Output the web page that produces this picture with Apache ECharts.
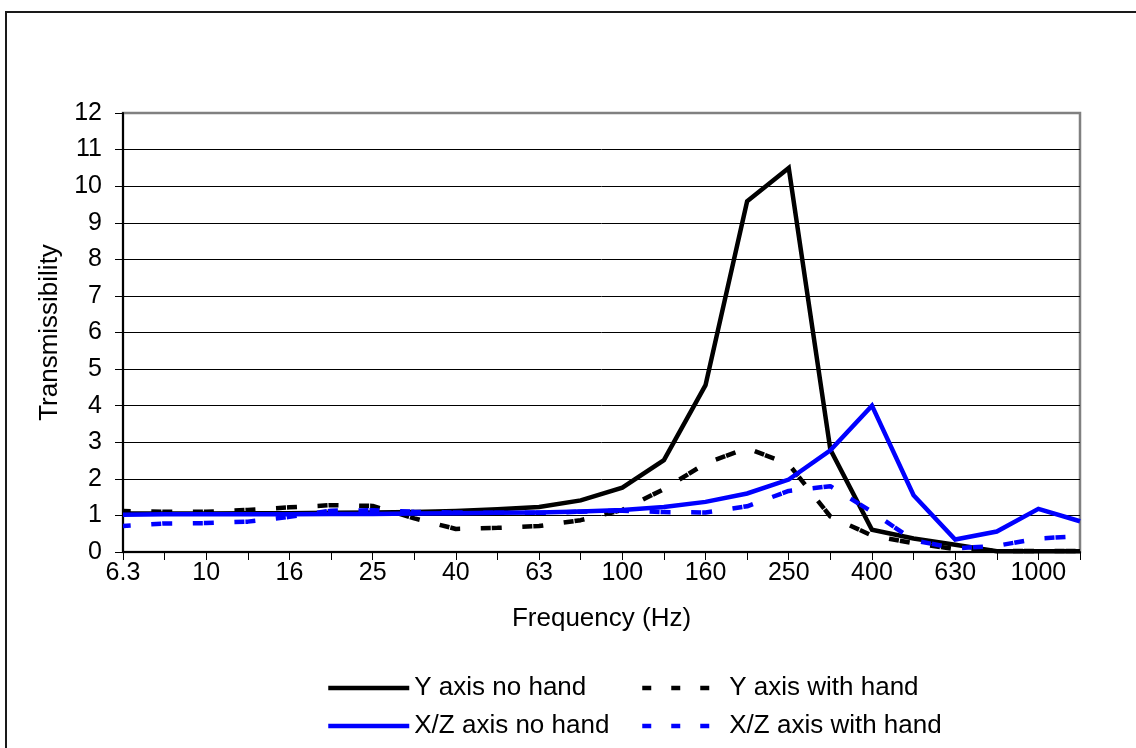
<!DOCTYPE html>
<html>
<head>
<meta charset="utf-8">
<script src="https://cdn.jsdelivr.net/npm/echarts@6/dist/echarts.min.js"></script>
<style>
  html, body { margin: 0; padding: 0; background: #fff; }
  #chart { width: 1136px; height: 748px; }
</style>
</head>
<body>
<div id="chart"></div>
<script>
// One-third octave band centre frequencies (Hz)
const frequencies = ['6.3', '8', '10', '12.5', '16', '20', '25', '31.5', '40', '50', '63', '80',
  '100', '125', '160', '200', '250', '315', '400', '500', '630', '800', '1000', '1250'];

// Transmissibility per band
const yAxisNoHand = [1.05, 1.05, 1.05, 1.06, 1.06, 1.07, 1.08, 1.09, 1.12, 1.17, 1.23, 1.41,
  1.76, 2.51, 4.56, 9.59, 10.5, 2.8, 0.61, 0.37, 0.2, 0.02, 0.02, 0.02];
const yAxisWithHand = [1.12, 1.1, 1.1, 1.15, 1.22, 1.28, 1.26, 0.92, 0.63, 0.66, 0.71, 0.87,
  1.15, 1.72, 2.42, 2.84, 2.4, 0.97, 0.45, 0.24, 0.08, 0.03, 0.03, 0.03];
const xzAxisNoHand = [1.02, 1.03, 1.03, 1.03, 1.03, 1.04, 1.04, 1.05, 1.06, 1.07, 1.08, 1.11,
  1.15, 1.23, 1.37, 1.6, 1.98, 2.78, 4.0, 1.55, 0.34, 0.56, 1.18, 0.84];
const xzAxisWithHand = [0.71, 0.78, 0.79, 0.83, 0.96, 1.13, 1.14, 1.1, 1.08, 1.07, 1.07, 1.1,
  1.13, 1.09, 1.08, 1.25, 1.67, 1.8, 1.1, 0.32, 0.1, 0.17, 0.37, 0.43];

const seriesNames = ['Y axis no hand', 'Y axis with hand', 'X/Z axis no hand', 'X/Z axis with hand'];

const FONT = "'Liberation Sans', Arial, sans-serif";
const BLACK = '#000000';
const BLUE = '#0000ff';
const LINE_W = 4.5;
const DASH = [10, 1, 10, 20.6];

function lineSeries(name, data, color, dashed) {
  return {
    name: name,
    type: 'line',
    data: data,
    symbol: 'none',
    showSymbol: false,
    animation: false,
    lineStyle: dashed
      ? { color: color, width: LINE_W, type: DASH, dashOffset: 13.3, cap: 'butt' }
      : { color: color, width: LINE_W, type: 'solid', join: 'miter' },
    itemStyle: { color: color }
  };
}

const chart = echarts.init(document.getElementById('chart'), null, { renderer: 'canvas' });

const legendText = { fontFamily: FONT, fontSize: 26, color: '#000' };
// legend keys show only the line sample, no marker
const hiddenMarker = { opacity: 0, borderWidth: 0 };

chart.setOption({
  backgroundColor: '#ffffff',
  animation: false,
  textStyle: { fontFamily: FONT },
  graphic: [{
    type: 'rect',
    silent: true,
    shape: { x: 6, y: 12, width: 1200, height: 800 },
    style: { fill: 'none', stroke: '#1a1a1a', lineWidth: 2 }
  }],
  grid: {
    left: 123, right: 56, top: 113, bottom: 196,
    show: true, borderColor: '#808080', borderWidth: 2.5, backgroundColor: '#fff'
  },
  legend: [
    {
      orient: 'vertical', left: 326, top: 675, padding: 0,
      data: [seriesNames[0], seriesNames[2]],
      itemWidth: 81, itemHeight: 20, itemGap: 12,
      textStyle: legendText,
      itemStyle: hiddenMarker,
      lineStyle: { width: LINE_W }
    },
    {
      orient: 'vertical', left: 640, top: 675, padding: 0,
      data: [seriesNames[1], seriesNames[3]],
      itemWidth: 82, itemHeight: 20, itemGap: 12,
      textStyle: legendText,
      itemStyle: hiddenMarker,
      lineStyle: { width: LINE_W, type: [9, 20], dashOffset: 0 }
    }
  ],
  xAxis: {
    type: 'category',
    data: frequencies,
    boundaryGap: false,
    name: 'Frequency (Hz)',
    nameLocation: 'middle',
    nameGap: 54,
    nameTextStyle: { fontFamily: FONT, fontSize: 26, color: '#000' },
    axisLine: { show: true, lineStyle: { color: '#000', width: 2 } },
    axisTick: { show: true, interval: 0, length: 8, lineStyle: { color: '#000', width: 1 } },
    axisLabel: { interval: 1, margin: 9, fontFamily: FONT, fontSize: 25, color: '#000' },
    splitLine: { show: false }
  },
  yAxis: {
    type: 'value',
    min: 0, max: 12, interval: 1,
    name: 'Transmissibility',
    nameLocation: 'middle',
    nameGap: 60,
    nameRotate: 90,
    nameTextStyle: { fontFamily: FONT, fontSize: 26, color: '#000' },
    axisLine: { show: true, lineStyle: { color: '#000', width: 2 } },
    axisTick: { show: true, length: 8, lineStyle: { color: '#000', width: 1 } },
    axisLabel: { margin: 21, fontFamily: FONT, fontSize: 25, color: '#000' },
    splitLine: { show: true, showMaxLine: false, showMinLine: false, lineStyle: { color: '#000', width: 1 } }
  },
  series: [
    lineSeries(seriesNames[0], yAxisNoHand, BLACK, false),
    lineSeries(seriesNames[1], yAxisWithHand, BLACK, true),
    lineSeries(seriesNames[2], xzAxisNoHand, BLUE, false),
    lineSeries(seriesNames[3], xzAxisWithHand, BLUE, true)
  ]
});
</script>
</body>
</html>
